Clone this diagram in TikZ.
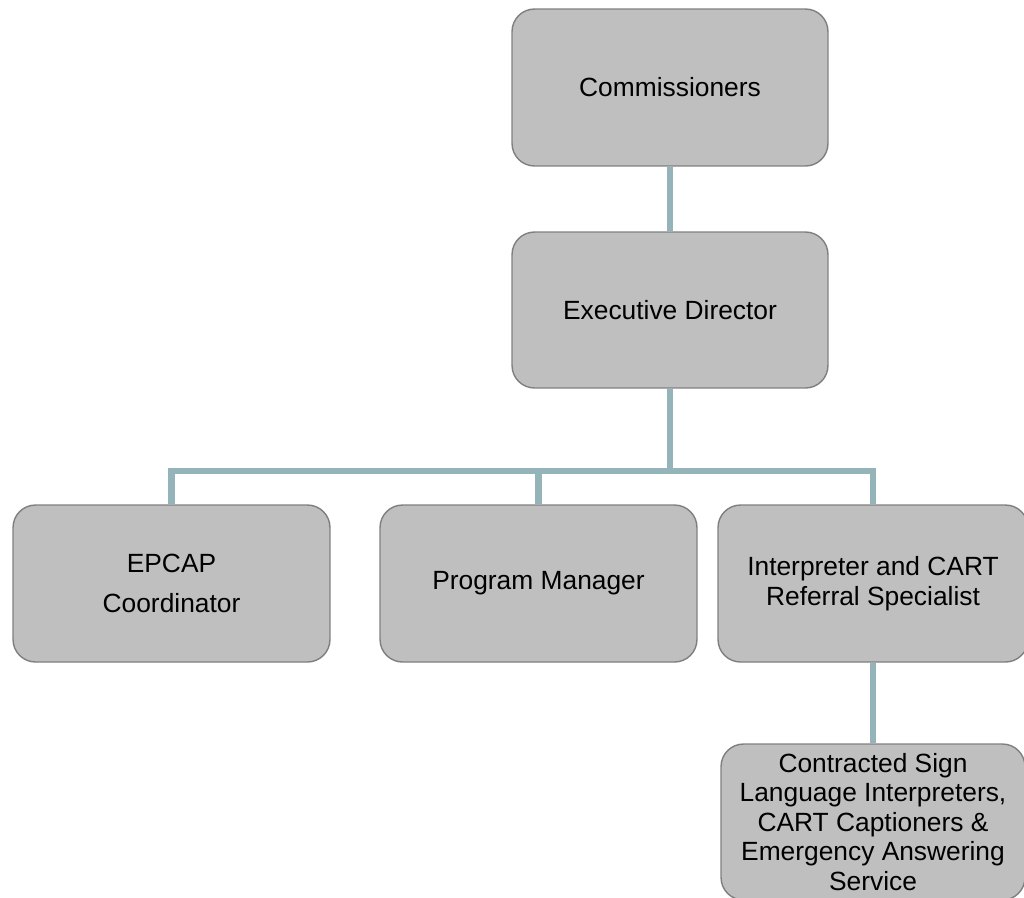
\documentclass[tikz,border=0pt]{standalone}
\usepackage{fontspec}
\setmainfont{Liberation Sans}
\definecolor{boxfill}{HTML}{BFBFBF}
\definecolor{boxline}{HTML}{7F7F7F}
\definecolor{linkcol}{HTML}{94B4B9}
\tikzset{
  orgbox/.style={rectangle, rounded corners=0.45cm, draw=boxline, fill=boxfill,
    line width=0.8pt, align=center, inner sep=2pt,
    font=\fontsize{15}{17}\selectfont},
  link/.style={draw=linkcol, line width=3.6pt}
}
\begin{document}
\begin{tikzpicture}[x=0.02cm, y=-0.02cm]
            \clip (0,0) rectangle (1024,897);
            % Draw top boxes
            \node[orgbox, minimum width=6.32cm, minimum height=3.14cm] (comm) at (670,87.5) {Commissioners};
            \node[orgbox, minimum width=6.32cm, minimum height=3.12cm] (ed) at (670,310) {Executive Director};
            % Draw second row
            \node[orgbox, minimum width=6.34cm, minimum height=3.14cm,
              font=\fontsize{15}{22.7}\selectfont] (epcap) at (171.5,583.5) {EPCAP\\Coordinator};
            \node[orgbox, minimum width=6.34cm, minimum height=3.14cm] (pm) at (538.5,583.5) {Program Manager};
            \node[orgbox, minimum width=6.2cm, minimum height=3.14cm] (interp) at (873,583.5) {Interpreter and CART\\Referral Specialist};
            % Draw bottom box
            \node[orgbox, minimum width=6.08cm, minimum height=3.12cm,
              font=\fontsize{15}{16.8}\selectfont] (contr) at (873,822) {Contracted Sign\\Language Interpreters,\\CART Captioners \&\\Emergency Answering\\Service};
            % Add bus line level
            \coordinate (bus) at (0,471);
            % Draw connectors
            \draw[link] (comm.south) -- (ed.north);
            \draw[link] (ed.south) -- (ed.south |- bus) -| (epcap.north);
            \draw[link] (ed.south |- bus) -| (pm.north);
            \draw[link] (ed.south |- bus) -| (interp.north);
            \draw[link] (interp.south) -- (contr.north);
\end{tikzpicture}
\end{document}
